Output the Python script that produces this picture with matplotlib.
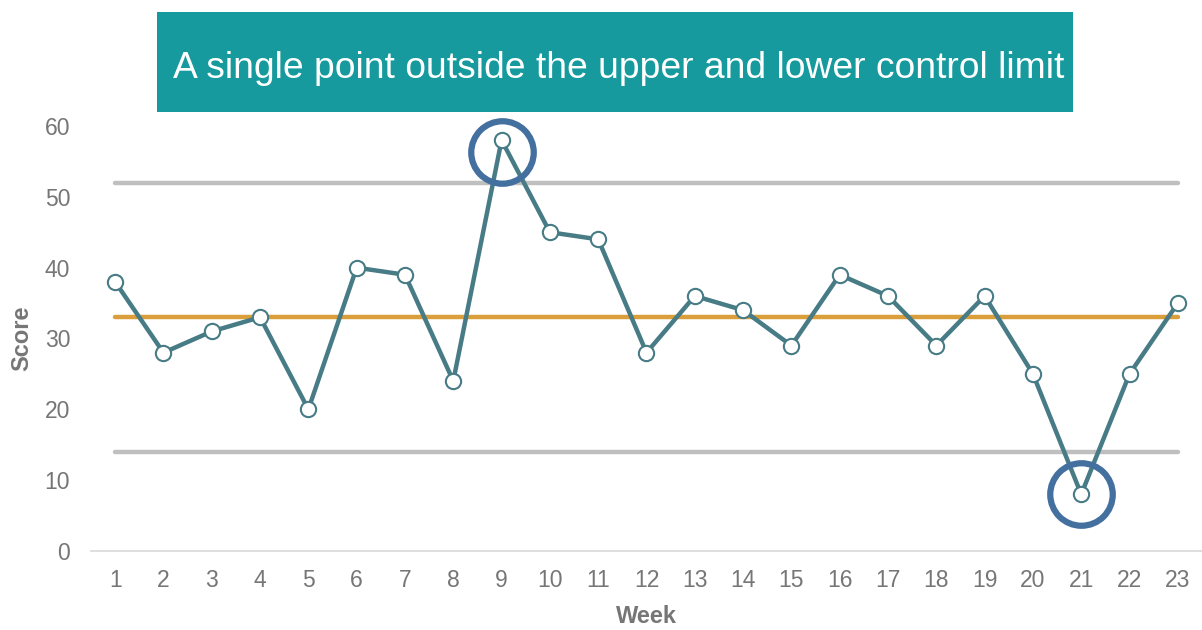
import matplotlib.pyplot as plt
from matplotlib.patches import Rectangle

plt.rcParams['font.family'] = ['Liberation Sans', 'DejaVu Sans']

weeks = list(range(1, 24))
score = [38, 28, 31, 33, 20, 40, 39, 24, 58, 45, 44, 28, 36, 34, 29, 39, 36, 29, 36, 25, 8, 25, 35]
center = 33
upper = 52
lower = 14
# highlighted points (ring positions)
ring_weeks = [9, 21]
ring_y = [56.3, 8]

title = 'A single point outside the upper and lower control limit'

fig = plt.figure(figsize=(12.02, 6.30), dpi=100)
ax = fig.add_axes([0.0757, 0.1254, 0.9243, 0.6746])

ax.plot([weeks[0], weeks[-1]], [upper, upper], color='#BFBFBF', lw=3.2, solid_capstyle='round', zorder=1)
ax.plot([weeks[0], weeks[-1]], [lower, lower], color='#BFBFBF', lw=3.2, solid_capstyle='round', zorder=1)
ax.plot([weeks[0], weeks[-1]], [center, center], color='#DA9E3A', lw=3.2, solid_capstyle='round', zorder=2)

ax.plot(weeks, score, color='#477B85', lw=3.2, marker='o', markersize=11,
        markerfacecolor='white', markeredgecolor='#477B85', markeredgewidth=1.5, zorder=3)

ax.plot(ring_weeks, ring_y, ls='none', marker='o', markersize=45, markerfacecolor='none',
        markeredgecolor='#44709F', markeredgewidth=4.5, zorder=4, clip_on=False)

ax.set_xlim(0.5, 23.5)
ax.set_ylim(0, 60)
ax.set_xticks(weeks)
ax.set_yticks(range(0, 61, 10))
ax.tick_params(axis='both', length=0, labelsize=16.5, labelcolor='#767676')
ax.tick_params(axis='x', pad=13)
ax.tick_params(axis='y', pad=15)
for s in ['top', 'right', 'left']:
    ax.spines[s].set_visible(False)
ax.spines['bottom'].set_color('#D9D9D9')
ax.spines['bottom'].set_linewidth(1.2)

ax.set_xlabel('Week', fontsize=17, fontweight='bold', color='#767676', labelpad=9)
ax.set_ylabel('Score', fontsize=17, fontweight='bold', color='#767676', labelpad=8)

fig.patches.append(Rectangle((0.1306, 0.8222), 0.762, 0.1587, transform=fig.transFigure,
                             facecolor='#169A9D', edgecolor='none'))
fig.text(0.515, 0.892, title, ha='center', va='center', fontsize=26.8, color='white')

plt.savefig('out.png', dpi=100)
